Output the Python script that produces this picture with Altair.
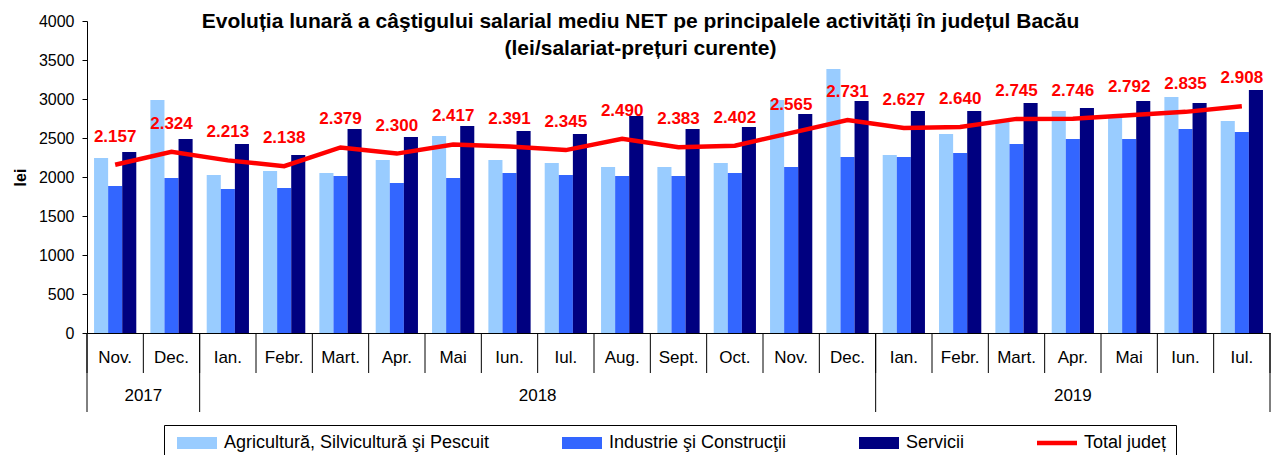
import altair as alt
import pandas as pd

# ---------------- data ----------------
months = ["Nov.", "Dec.", "Ian.", "Febr.", "Mart.", "Apr.", "Mai", "Iun.", "Iul.", "Aug.",
          "Sept.", "Oct.", "Nov.", "Dec.", "Ian.", "Febr.", "Mart.", "Apr.", "Mai", "Iun.", "Iul."]
years = ["2017", "2018", "2019"]
year_months = [2, 12, 7]

agri = [2244, 2987, 2026, 2077, 2051, 2218, 2526, 2218, 2179, 2128, 2128, 2179, 2987, 3385,
        2282, 2551, 2710, 2846, 2760, 3026, 2718]
indus = [1885, 1987, 1846, 1859, 2013, 1923, 1987, 2051, 2026, 2013, 2013, 2051, 2128, 2256,
         2256, 2308, 2423, 2487, 2487, 2615, 2577]
serv = [2321, 2487, 2423, 2282, 2615, 2513, 2654, 2590, 2551, 2782, 2615, 2641, 2808, 2974,
        2846, 2846, 2949, 2885, 2974, 2949, 3115]
total = [2157, 2324, 2213, 2138, 2379, 2300, 2417, 2391, 2345, 2490, 2383, 2402, 2565, 2731,
         2627, 2640, 2745, 2746, 2792, 2835, 2908]

series = ["Agricultură, Silvicultură şi Pescuit", "Industrie şi Construcţii", "Servicii", "Total județ"]
colors = ["#99CCFF", "#3366FF", "#000080", "#FF0000"]
y_ticks = [0, 500, 1000, 1500, 2000, 2500, 3000, 3500, 4000]

title_lines = ["Evoluția lunară a câştigului salarial mediu NET pe principalele activități în județul Bacău",
               "(lei/salariat-prețuri curente)"]

# ---------------- tables ----------------
n = len(months)
idx = list(range(n))
bars_df = pd.DataFrame({
    "idx": idx * 3,
    "series": [series[0]] * n + [series[1]] * n + [series[2]] * n,
    "value": agri + indus + serv,
})
tot_df = pd.DataFrame({"idx": idx, "month": months, "total": total})

starts, ends = [], []
c = 0
for m in year_months:
    starts.append(c)
    c += m
    ends.append(c)
year_df = pd.DataFrame({"year": years, "start": starts, "end": ends})
sep_df = pd.DataFrame({"b": list(range(n + 1))})
ysep_df = pd.DataFrame({"b": sorted(set(starts + ends))})

W, H = 1183, 312
FONT = "Liberation Sans"

xo = alt.X("idx:O", scale=alt.Scale(paddingInner=0, paddingOuter=0),
           axis=alt.Axis(labels=False, ticks=False, title=None, domain=True,
                         domainColor="black", grid=False))
xo_plain = alt.X("idx:O", scale=alt.Scale(paddingInner=0, paddingOuter=0), axis=None)

yscale = alt.Scale(domain=[0, 4000], nice=False)
yaxis = alt.Axis(values=y_ticks, format="d", labelOverlap=False, tickCount=len(y_ticks),
                 title="lei", grid=False,
                 domainColor="black", tickColor="black", tickSize=5,
                 labelFont=FONT, labelFontSize=16, labelColor="black", labelPadding=8,
                 titleFont=FONT, titleFontSize=16, titleFontWeight="bold",
                 titleColor="black", titlePadding=10)

bar_sym = "M-1,-1.2H7V1.2H-1Z"
line_sym = "M-1,-0.45H7V0.45H-1Z"
legend = alt.Legend(
    title=None, orient="none", legendX=77, legendY=404, direction="horizontal", columns=4,
    columnPadding=68, padding=9, strokeColor="black", fillColor="white",
    labelFont=FONT, labelFontSize=18, labelColor="black", labelLimit=500, labelOffset=33,
    symbolSize=100, symbolStrokeWidth=0, symbolOpacity=1,
    symbolType=alt.ExprRef(expr=f"datum.value === 'Total județ' ? '{line_sym}' : '{bar_sym}'"),
)

bars = alt.Chart(bars_df).mark_bar().encode(
    x=xo,
    xOffset=alt.XOffset("series:N", scale=alt.Scale(domain=series[:3], paddingInner=0, paddingOuter=0.5)),
    y=alt.Y("value:Q", scale=yscale, axis=yaxis),
    color=alt.Color("series:N", scale=alt.Scale(domain=series, range=colors), legend=legend),
)

line = alt.Chart(tot_df).mark_line(color="#FF0000", strokeWidth=4.5).encode(
    x=xo_plain, y=alt.Y("total:Q", scale=yscale, axis=yaxis))

labels = alt.Chart(tot_df).transform_calculate(
    lbl="replace(format(datum.total, ','), ',', '.')"
).mark_text(dy=-28, fontSize=17, fontWeight="bold", color="#FF0000", font=FONT).encode(
    x=xo_plain, y=alt.Y("total:Q", scale=yscale, axis=yaxis), text="lbl:N")

mlabels = alt.Chart(tot_df).mark_text(fontSize=17, font=FONT, color="black", baseline="middle").encode(
    x=xo_plain, y=alt.value(H + 25), text="month:N")

xq = alt.Scale(domain=[0, n], nice=False, zero=False)
msep = alt.Chart(sep_df).mark_rule(color="black", strokeWidth=1).encode(
    x=alt.X("b:Q", scale=xq, axis=None), y=alt.value(H), y2=alt.value(H + 40))
ysep = alt.Chart(ysep_df).mark_rule(color="black", strokeWidth=1).encode(
    x=alt.X("b:Q", scale=xq, axis=None), y=alt.value(H), y2=alt.value(H + 79))
ylabels = alt.Chart(year_df).transform_calculate(
    mid="(datum.start + datum.end) / 2"
).mark_text(fontSize=17, font=FONT, color="black", baseline="middle").encode(
    x=alt.X("mid:Q", scale=xq, axis=None), y=alt.value(H + 63), text="year:N")

chart = alt.layer(bars, line, labels, mlabels, msep, ysep, ylabels).resolve_scale(
    x="independent"
).properties(
    width=W, height=H,
    autosize=alt.AutoSizeParams(type="none"),
    padding={"left": 79, "top": 13, "right": 1, "bottom": 122},
    title=alt.TitleParams(text=title_lines, font=FONT, fontSize=21, fontWeight="bold",
                          color="black", anchor="middle", dx=-38, offset=-46, lineHeight=27),
).configure_view(stroke=None)

chart.save("out.html", embed_options={"renderer": "svg", "actions": False})
